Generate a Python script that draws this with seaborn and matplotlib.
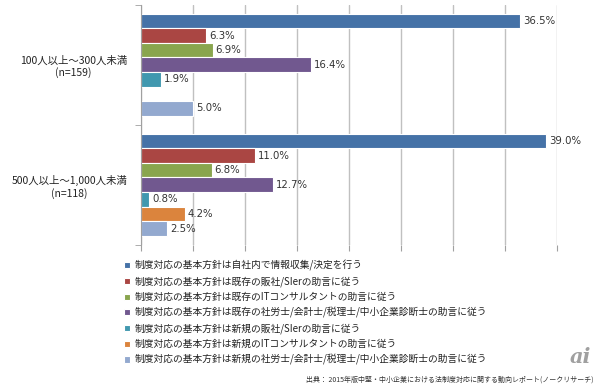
import numpy as np
import pandas as pd
import matplotlib
matplotlib.use("Agg")
import matplotlib.pyplot as plt
import seaborn as sns

# データ
groups = ["100人以上～300人未満\n(n=159)", "500人以上～1,000人未満\n(n=118)"]
series = [
    "制度対応の基本方針は自社内で情報収集/決定を行う",
    "制度対応の基本方針は既存の販社/SIerの助言に従う",
    "制度対応の基本方針は既存のITコンサルタントの助言に従う",
    "制度対応の基本方針は既存の社労士/会計士/税理士/中小企業診断士の助言に従う",
    "制度対応の基本方針は新規の販社/SIerの助言に従う",
    "制度対応の基本方針は新規のITコンサルタントの助言に従う",
    "制度対応の基本方針は新規の社労士/会計士/税理士/中小企業診断士の助言に従う",
]
values_100_300 = [36.5, 6.3, 6.9, 16.4, 1.9, 0.0, 5.0]
values_500_1000 = [39.0, 11.0, 6.8, 12.7, 0.8, 4.2, 2.5]
colors = ["#4572A7", "#AA4643", "#89A54E", "#71588F", "#4198AF", "#DB843D", "#93A9CF"]

df = pd.DataFrame({
    "group": [groups[0]] * len(series) + [groups[1]] * len(series),
    "series": series * 2,
    "value": values_100_300 + values_500_1000,
})

sns.set_style("white")
plt.rcParams["font.family"] = ["Noto Sans CJK JP", "DejaVu Sans"]

fig = plt.figure(figsize=(6, 3.88), dpi=100)
ax = fig.add_axes([0.235, 0.369, 0.693, 0.619])

sns.barplot(data=df, x="value", y="group", hue="series", hue_order=series,
            order=groups, palette=colors, orient="h", width=0.85,
            saturation=1, linewidth=0.8, edgecolor="white", ax=ax, legend=True)

# データラベル
for cont in ax.containers:
    labels = [f"{w:.1f}%" if w > 0 else "" for w in cont.datavalues]
    ax.bar_label(cont, labels=labels, padding=2, fontsize=7.3,
                 family="DejaVu Sans", color="#333333")

ax.set_xlim(0, 40)
ax.set_xticks(np.arange(0, 41, 5))
ax.set_ylim(1.5, -0.5)
ax.set_xlabel("")
ax.set_ylabel("")
ax.grid(axis="x", color="#C0C0C0", linewidth=1)
ax.set_axisbelow(True)
for s in ["top", "right", "bottom"]:
    ax.spines[s].set_visible(False)
ax.spines["left"].set_color("#A0A0A0")
ax.tick_params(axis="x", bottom=True, length=4, color="#A0A0A0", labelbottom=False)
ax.tick_params(axis="y", which="major", length=0, pad=10, labelsize=7.5, labelcolor="#222222")
ax.set_yticks([-0.5, 0.5, 1.5], minor=True)
ax.tick_params(axis="y", which="minor", left=True, length=4, color="#A0A0A0")
for lab in ax.get_yticklabels():
    lab.set_multialignment("center")

# 凡例
handles, labs = ax.get_legend_handles_labels()
ax.legend_.remove()
fig.legend(handles, labs, loc="upper left", bbox_to_anchor=(0.2, 0.34),
           frameon=False, fontsize=7, handlelength=0.6, handleheight=0.6,
           handletextpad=0.5, labelspacing=0.53, borderaxespad=0,
           labelcolor="#222222")

fig.text(0.99, 0.012, "出典： 2015年版中堅・中小企業における法制度対応に関する動向レポート(ノークリサーチ)",
         ha="right", va="bottom", fontsize=5, color="#333333")
fig.text(0.985, 0.055, "ai", ha="right", va="bottom", fontsize=15,
         style="italic", fontweight="bold", color="#A0A0A0", family="DejaVu Serif")

fig.savefig("out.png", dpi=100)
